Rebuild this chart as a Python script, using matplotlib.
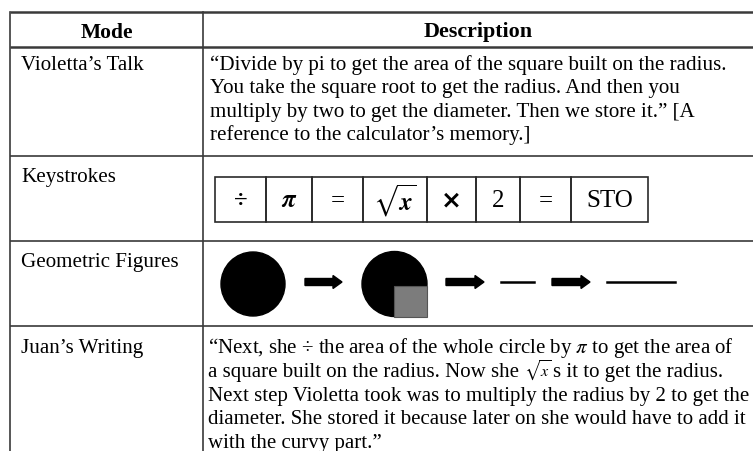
import matplotlib.pyplot as plt
from matplotlib import patches

plt.rcParams['font.family'] = ['Liberation Serif', 'DejaVu Serif']
plt.rcParams['mathtext.fontset'] = 'stix'

# ---- table content ----
headers = ["Mode", "Description"]
modes = ["Violetta\u2019s Talk", "Keystrokes", "Geometric Figures", "Juan\u2019s Writing"]

violetta_lines = [
    "\u201cDivide by pi to get the area of the square built on the radius.",
    "You take the square root to get the radius. And then you",
    "multiply by two to get the diameter. Then we store it.\u201d [A",
    "reference to the calculator\u2019s memory.]",
]

keys = ["\u00f7", r"$\boldsymbol{\pi}$", "=", r"$\sqrt{\boldsymbol{x}}$", "\u00d7", "2", "=", "STO"]
key_edges = [215, 266, 312, 363, 427, 476, 520, 571, 648]

# geometric sequence: (kind, x0, x1)
figures = [
    ("circle", 221, 285),
    ("arrow", 305, 342),
    ("circle_sq", 362, 427),
    ("arrow", 446, 484),
    ("line", 501, 534),
    ("arrow", 552, 590),
    ("line", 607, 675),
]

# each line of Juan's writing is a list of pieces; the radical gets a smaller size
juan_lines = [
    ["\u201cNext, she \u00f7 the area of the whole circle by $\\pi$ to get the area of"],
    ["a square built on the radius. Now she ", "$\\sqrt{x}$", "s it to get the radius."],
    ["Next step Violetta took was to multiply the radius by 2 to get the"],
    ["diameter. She stored it because later on she would have to add it"],
    ["with the curvy part.\u201d"],
]

# ---- layout (pixels) ----
W, H = 753, 452
x_left, x_div, x_right = 10, 203, 760
row_lines = [13, 48, 157, 242, 327, 470]
line_col = '#3a3a3a'
fs = 15.1
fs_juan = 15.0

fig = plt.figure(figsize=(W / 100, H / 100), dpi=100)
ax = fig.add_axes([0, 0, 1, 1])
ax.set_xlim(0, W)
ax.set_ylim(H, 0)
ax.axis('off')
renderer = fig.canvas.get_renderer()

# grid lines
for i, y in enumerate(row_lines):
    ax.plot([x_left, x_right], [y, y], color=line_col, lw=1.8 if i in (0, 1) else 1.2,
            solid_capstyle='butt')
for x in (x_left, x_div):
    ax.plot([x, x], [row_lines[0], row_lines[-1]], color=line_col, lw=1.2)

# header
ax.text((x_left + x_div) / 2, 37.5, headers[0], ha='center', va='baseline',
        fontsize=15.5, fontweight='bold')
ax.text((x_div + W) / 2, 37.5, headers[1], ha='center', va='baseline',
        fontsize=15.8, fontweight='bold')

# mode labels
mode_base = [70, 182, 267, 353]
for m, yb in zip(modes, mode_base):
    ax.text(21, yb, m, ha='left', va='baseline', fontsize=fs)

# Violetta's talk
for i, s in enumerate(violetta_lines):
    ax.text(210, 70 + i * 23.4, s, ha='left', va='baseline', fontsize=fs)

# keystrokes
k_top, k_bot = 178, 223
for i, k in enumerate(keys):
    x0, x1 = key_edges[i], key_edges[i + 1]
    ax.add_patch(patches.Rectangle((x0, k_top), x1 - x0, k_bot - k_top,
                                   fill=False, ec='#2a2a2a', lw=1.2))
    if k == "\u00d7":
        ax.text((x0 + x1) / 2, 201, k, ha='center', va='center', fontsize=18,
                family=['DejaVu Sans'], fontweight='bold')
    else:
        ax.text((x0 + x1) / 2, 201, k, ha='center', va='center', fontsize=18,
                fontweight='bold' if k == "\u00f7" else 'normal')

# geometric figures
yc = 285
for kind, x0, x1 in figures:
    if kind in ("circle", "circle_sq"):
        r = (x1 - x0) / 2
        cx = (x0 + x1) / 2
        ax.add_patch(patches.Circle((cx, yc), r, color='black'))
        if kind == "circle_sq":
            ax.add_patch(patches.Rectangle((cx, yc + 2), r, r - 2, fc='#7c7c7c',
                                           ec='#555555', lw=0.8))
    elif kind == "arrow":
        ax.add_patch(patches.FancyArrow(x0, 283, x1 - x0, 0, width=7, head_width=13,
                                        head_length=9, length_includes_head=True,
                                        color='black'))
    else:
        ax.plot([x0, x1], [283, 283], color='black', lw=1.8)

# Juan's writing, pieces placed one after another
for i, pieces in enumerate(juan_lines):
    x = 208
    yb = 353 + i * 23.8
    for p in pieces:
        size = 11.5 if p.startswith("$\\sqrt") else fs_juan
        t = ax.text(x, yb, p, ha='left', va='baseline', fontsize=size)
        x += t.get_window_extent(renderer).width + (1 if size != fs_juan else 0)

fig.savefig('out.png', dpi=100, facecolor='white')
